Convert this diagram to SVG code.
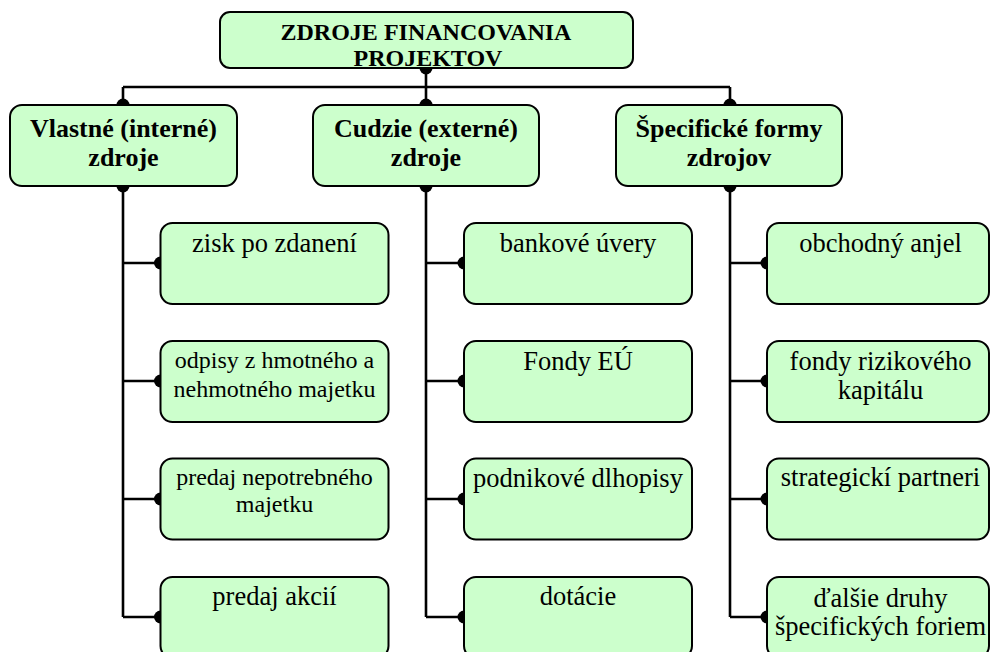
<svg xmlns="http://www.w3.org/2000/svg" width="991" height="652" viewBox="0 0 991 652" font-family="Liberation Serif, serif">
<style>
.box{fill:#CCFFCC;stroke:#000;stroke-width:2}
.ln{fill:none;stroke:#000;stroke-width:2.6}
.dot{fill:#000}
text{font-family:'Liberation Serif',serif;fill:#000;text-anchor:middle}
.b{font-weight:bold;font-size:26px}
.t{font-size:26.5px}
.s{font-size:24px}
</style>
<defs>
<clipPath id="clipTitle"><rect x="220" y="12" width="413" height="55"/></clipPath>
</defs>
<rect width="991" height="652" fill="#fff"/>
<g id="connectors">
<path class="ln" d="M426,68V87M123,87H730M123,87V105M426,87V105M730,87V105"/>
<path class="ln" d="M123,186V617M123,263H160M123,381H160M123,499H160M123,617H160"/>
<path class="ln" d="M426,186V617M426,263H464M426,381H464M426,499H464M426,617H464"/>
<path class="ln" d="M730,186V617M730,263H767M730,381H767M730,499H767M730,617H767"/>
<circle class="dot" cx="426" cy="68" r="6.5"/>
<circle class="dot" cx="123" cy="105" r="6.5"/>
<circle class="dot" cx="426" cy="105" r="6.5"/>
<circle class="dot" cx="730" cy="105" r="6.5"/>
<circle class="dot" cx="123" cy="186" r="6.5"/>
<circle class="dot" cx="426" cy="186" r="6.5"/>
<circle class="dot" cx="730" cy="186" r="6.5"/>
<circle class="dot" cx="160.5" cy="263" r="6.5"/>
<circle class="dot" cx="160.5" cy="381" r="6.5"/>
<circle class="dot" cx="160.5" cy="499" r="6.5"/>
<circle class="dot" cx="160.5" cy="617" r="6.5"/>
<circle class="dot" cx="464" cy="263" r="6.5"/>
<circle class="dot" cx="464" cy="381" r="6.5"/>
<circle class="dot" cx="464" cy="499" r="6.5"/>
<circle class="dot" cx="464" cy="617" r="6.5"/>
<circle class="dot" cx="767" cy="263" r="6.5"/>
<circle class="dot" cx="767" cy="381" r="6.5"/>
<circle class="dot" cx="767" cy="499" r="6.5"/>
<circle class="dot" cx="767" cy="617" r="6.5"/>
</g>
<g id="root">
<rect class="box" x="220" y="12" width="413" height="56" rx="10"/>
<g clip-path="url(#clipTitle)">
<text x="426" y="39.5" font-family="Liberation Serif, serif" font-weight="bold" font-size="24">ZDROJE FINANCOVANIA</text>
<text x="428" y="66" font-family="Liberation Serif, serif" font-weight="bold" font-size="24">PROJEKTOV</text>
</g>
</g>
<g id="vlastne" font-family="Liberation Serif, serif">
<rect class="box" x="10" y="105" width="227" height="81" rx="12"/>
<text class="b" x="123.5" y="137">Vlastné (interné)</text>
<text class="b" x="123.5" y="166">zdroje</text>
</g>
<g id="cudzie">
<rect class="box" x="313" y="105" width="226" height="81" rx="12"/>
<text class="b" x="426" y="137">Cudzie (externé)</text>
<text class="b" x="426" y="166">zdroje</text>
</g>
<g id="specificke">
<rect class="box" x="616" y="105" width="226" height="81" rx="12"/>
<text class="b" x="729" y="137">Špecifické formy</text>
<text class="b" x="729" y="166">zdrojov</text>
</g>
<g id="zisk">
<rect class="box" x="160.5" y="223" width="228" height="81" rx="12"/>
<text class="t" x="274.5" y="251.5">zisk po zdanení</text>
</g>
<g id="odpisy">
<rect class="box" x="160.5" y="341" width="228" height="81" rx="12"/>
<text class="s" x="274.5" y="368.3">odpisy z hmotného a</text>
<text class="s" x="274.5" y="396.7">nehmotného majetku</text>
</g>
<g id="predaj-majetku">
<rect class="box" x="160.5" y="458.5" width="228" height="81" rx="12"/>
<text class="s" x="274.5" y="485">predaj nepotrebného</text>
<text class="s" x="274.5" y="512">majetku</text>
</g>
<g id="predaj-akcii">
<rect class="box" x="160.5" y="577" width="228" height="81" rx="12"/>
<text class="t" x="274.5" y="605">predaj akcií</text>
</g>
<g id="bankove">
<rect class="box" x="464" y="223" width="228" height="81" rx="12"/>
<text class="t" x="578" y="251.5">bankové úvery</text>
</g>
<g id="fondy-eu">
<rect class="box" x="464" y="341" width="228" height="81" rx="12"/>
<text class="t" x="578" y="369.5">Fondy EÚ</text>
</g>
<g id="dlhopisy">
<rect class="box" x="464" y="458.5" width="228" height="81" rx="12"/>
<text class="t" x="578" y="487">podnikové dlhopisy</text>
</g>
<g id="dotacie">
<rect class="box" x="464" y="577" width="228" height="81" rx="12"/>
<text class="t" x="578" y="605">dotácie</text>
</g>
<g id="anjel">
<rect class="box" x="767" y="223" width="222" height="81" rx="12"/>
<text class="t" x="880.5" y="251.5">obchodný anjel</text>
</g>
<g id="rizikovy">
<rect class="box" x="767" y="341" width="222" height="81" rx="12"/>
<text class="t" x="880.5" y="370">fondy rizikového</text>
<text class="t" x="880.5" y="399.3">kapitálu</text>
</g>
<g id="partneri">
<rect class="box" x="767" y="458.5" width="222" height="81" rx="12"/>
<text class="t" x="880.5" y="486">strategickí partneri</text>
</g>
<g id="dalsie">
<rect class="box" x="767" y="577" width="222" height="81" rx="12"/>
<text class="t" x="880.5" y="606.5">ďalšie druhy</text>
<text class="t" x="880.5" y="635">špecifických foriem</text>
</g>
</svg>
